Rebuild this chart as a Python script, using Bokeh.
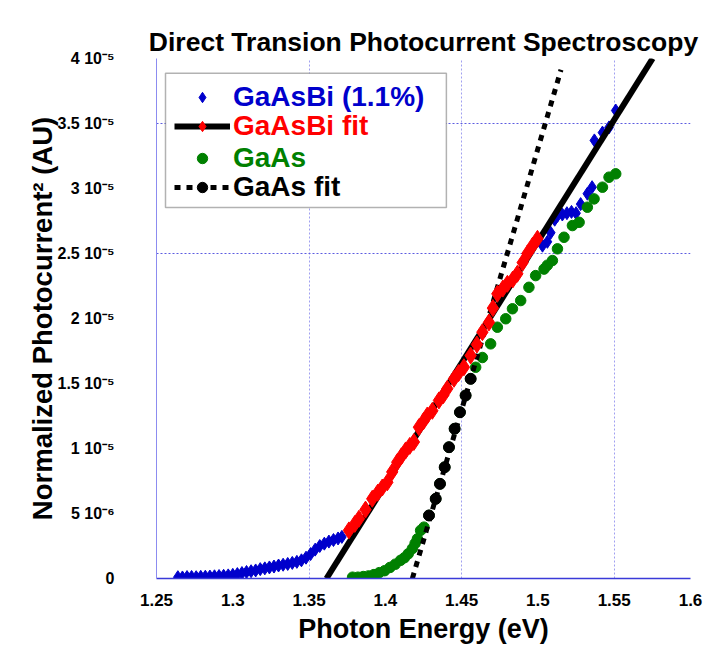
from bokeh.plotting import figure
from bokeh.models import (Range1d, FixedTicker, Legend, LegendItem, LinearAxis,
                          BoxAnnotation, ColumnDataSource)
from bokeh.embed import file_html
from bokeh.resources import INLINE

FONT = "Liberation Sans"

# GaAsBi (1.1%): photon energy (eV) and normalized photocurrent^2 (units of 1e-5)
gaasbi_e = [
    1.264, 1.267, 1.270, 1.273, 1.276, 1.279, 1.282, 1.285, 1.288, 1.291,
    1.294, 1.297, 1.300, 1.303, 1.306, 1.309, 1.312, 1.315, 1.318, 1.321,
    1.324, 1.327, 1.330, 1.333, 1.336, 1.339, 1.342, 1.345, 1.348, 1.351,
    1.354, 1.357, 1.360, 1.363, 1.366, 1.369, 1.3715,
    1.3761, 1.3800, 1.3827, 1.3870, 1.3914, 1.3950, 1.3980, 1.4013, 1.4045, 1.4078,
    1.4105, 1.4133, 1.4160, 1.4187, 1.4220, 1.4250, 1.4275, 1.4308, 1.4351, 1.4380,
    1.4406, 1.4450, 1.4480, 1.4515, 1.4559, 1.4600, 1.4636, 1.4679, 1.4705, 1.4734,
    1.4770, 1.4800, 1.4835, 1.4865, 1.4900, 1.4931, 1.4965, 1.4997,
    1.5030, 1.5062, 1.5084, 1.5110, 1.5128, 1.5160, 1.5190, 1.5220, 1.5250, 1.5280,
    1.5324, 1.5355, 1.5370, 1.5423, 1.5466, 1.5510,
]
gaasbi_pc2 = [
    0.010, 0.008, 0.011, 0.012, 0.010, 0.013, 0.014, 0.015, 0.017, 0.019,
    0.021, 0.024, 0.028, 0.034, 0.042, 0.050, 0.056, 0.062, 0.072, 0.078,
    0.085, 0.092, 0.100, 0.106, 0.112, 0.120, 0.128, 0.140, 0.160, 0.188,
    0.222, 0.250, 0.268, 0.284, 0.296, 0.308, 0.320,
    0.370, 0.420, 0.460, 0.530, 0.613, 0.660, 0.700, 0.740, 0.820, 0.895,
    0.940, 0.985, 1.020, 1.050, 1.164, 1.210, 1.254, 1.290, 1.370, 1.410,
    1.460, 1.536, 1.580, 1.625, 1.715, 1.800, 1.895, 1.970, 2.080, 2.190,
    2.230, 2.267, 2.300, 2.344, 2.430, 2.500, 2.560, 2.613,
    2.560, 2.590, 2.660, 2.760, 2.790, 2.800, 2.810, 2.820, 2.810, 2.880,
    2.960, 3.010, 3.370, 3.430, 3.470, 3.600,
]
# points of the GaAsBi set used for its linear fit
gaasbi_fit_first, gaasbi_fit_last = 37, 74
# GaAsBi linear fit, end points (eV, 1e-5)
gaasbi_line_e = [1.3614, 1.5752]
gaasbi_line_pc2 = [0.0, 4.0]

# GaAs: photon energy (eV) and normalized photocurrent^2 (units of 1e-5)
gaas_e = [
    1.3785, 1.3820, 1.3855, 1.3890, 1.3925, 1.3960, 1.3995, 1.4030, 1.4065, 1.4100,
    1.4125, 1.4150, 1.4177, 1.4195, 1.4210, 1.4231, 1.4253,
    1.4286, 1.4330, 1.4358, 1.4389, 1.4417, 1.4454, 1.4489, 1.4526, 1.4559,
    1.4592, 1.4636, 1.4690, 1.4734, 1.4789, 1.4833, 1.4887, 1.4941, 1.4985, 1.5040,
    1.5062, 1.5095, 1.5128, 1.5171, 1.5226, 1.5270, 1.5324, 1.5368, 1.5423, 1.5466,
    1.5510,
]
gaas_pc2 = [
    0.010, 0.010, 0.015, 0.020, 0.030, 0.045, 0.060, 0.085, 0.110, 0.140,
    0.160, 0.190, 0.230, 0.270, 0.305, 0.370, 0.395,
    0.485, 0.613, 0.728, 0.856, 1.010, 1.152, 1.279, 1.408, 1.536,
    1.625, 1.700, 1.805, 1.933, 1.998, 2.075, 2.138, 2.240, 2.330, 2.380,
    2.410, 2.446, 2.536, 2.625, 2.715, 2.740, 2.856, 2.920, 3.010, 3.087,
    3.113,
]
# points of the GaAs set used for its linear fit
gaas_fit_first, gaas_fit_last = 17, 25
gaas_line_e = [1.4177, 1.5151]
gaas_line_pc2 = [0.0, 3.913]

# axes
x_ticks = [1.25, 1.3, 1.35, 1.4, 1.45, 1.5, 1.55, 1.6]
x_tick_labels = ["1.25", "1.3", "1.35", "1.4", "1.45", "1.5", "1.55", "1.6"]
x_grid = [1.35, 1.45, 1.55]
y_ticks = [0, 0.5e-5, 1e-5, 1.5e-5, 2e-5, 2.5e-5, 3e-5, 3.5e-5, 4e-5]
y_tick_labels = ["0", "5 10\u207b\u2076", "1 10\u207b\u2075", "1.5 10\u207b\u2075",
                 "2 10\u207b\u2075", "2.5 10\u207b\u2075", "3 10\u207b\u2075",
                 "3.5 10\u207b\u2075", "4 10\u207b\u2075"]
y_grid = [2.5e-5, 3.5e-5]

SCALE = 1e-5


def src(xs, ys):
    return ColumnDataSource(dict(x=list(xs), y=[v * SCALE for v in ys]))


p = figure(width=715, height=646,
           x_range=Range1d(1.25, 1.6), y_range=Range1d(0, 4e-5),
           output_backend="svg", toolbar_location=None,
           min_border_left=156, min_border_right=25,
           min_border_top=58, min_border_bottom=68,
           title="Direct Transion Photocurrent Spectroscopy")
p.outline_line_color = None

p.title.align = "center"
p.title.text_font = FONT
p.title.text_font_size = "26.5px"
p.title.text_font_style = "bold"
p.title.text_color = "black"
p.title.standoff = 4

# x axis (bottom)
xa = p.below[0]
xa.ticker = FixedTicker(ticks=x_ticks)
xa.major_label_overrides = dict(zip(x_ticks, x_tick_labels))
xa.major_label_text_font = FONT
xa.major_label_text_font_size = "17px"
xa.major_label_text_font_style = "bold"
xa.major_label_text_color = "black"
xa.major_label_standoff = 9
xa.axis_label = "Photon Energy (eV)"
xa.axis_label_text_font = FONT
xa.axis_label_text_font_size = "27px"
xa.axis_label_text_font_style = "bold"
xa.axis_label_text_color = "black"
xa.axis_label_standoff = 5
xa.axis_line_color = "#3a3ad8"
xa.axis_line_width = 1.5
xa.major_tick_line_color = None
xa.minor_tick_line_color = None

# y axis
ya = p.left[0]
ya.ticker = FixedTicker(ticks=y_ticks)
ya.major_label_overrides = dict(zip(y_ticks, y_tick_labels))
ya.major_label_text_font = FONT
ya.major_label_text_font_size = "16px"
ya.major_label_text_font_style = "bold"
ya.major_label_text_color = "black"
ya.major_label_standoff = 36
ya.axis_label = "Normalized Photocurrent\u00b2 (AU)"
ya.axis_label_text_font = FONT
ya.axis_label_text_font_size = "27.5px"
ya.axis_label_text_font_style = "bold"
ya.axis_label_text_color = "black"
ya.axis_label_standoff = -3
ya.axis_line_color = "#8c8cf0"
ya.major_tick_line_color = None
ya.minor_tick_line_color = None

# blank top axis: only keeps a band of space between the title and the plot area
p.add_layout(LinearAxis(ticker=FixedTicker(ticks=[]), major_tick_out=22,
                        major_tick_in=0, axis_line_color=None,
                        major_tick_line_color=None, minor_tick_line_color=None,
                        major_label_standoff=0), "above")

p.xgrid.ticker = FixedTicker(ticks=x_grid)
p.ygrid.ticker = FixedTicker(ticks=y_grid)
p.xgrid.grid_line_color = "#a0a0f0"
p.ygrid.grid_line_color = "#5c5ce0"
p.xgrid.grid_line_dash = "2 2"
p.ygrid.grid_line_dash = "2 2"

# data and fits
bi_all = p.scatter("x", "y", source=src(gaasbi_e, gaasbi_pc2), marker="diamond",
                   size=13, color="#0000cc")
gaas_all = p.scatter("x", "y", source=src(gaas_e, gaas_pc2), marker="circle",
                     size=10.5, color="#008000")
bi_line = p.line("x", "y", source=src(gaasbi_line_e, gaasbi_line_pc2),
                 line_color="black", line_width=6)
gaas_line = p.line("x", "y", source=src(gaas_line_e, gaas_line_pc2),
                   line_color="black", line_width=5, line_dash="6 6")
bi_fit = p.scatter("x", "y",
                   source=src(gaasbi_e[gaasbi_fit_first:gaasbi_fit_last + 1],
                              gaasbi_pc2[gaasbi_fit_first:gaasbi_fit_last + 1]),
                   marker="diamond", size=17, color="#ff0000")
gaas_fit = p.scatter("x", "y",
                     source=src(gaas_e[gaas_fit_first:gaas_fit_last + 1],
                                gaas_pc2[gaas_fit_first:gaas_fit_last + 1]),
                     marker="circle", size=11, color="black")

# legend frame
p.add_layout(BoxAnnotation(left=1.2559, right=1.4400, bottom=2.854e-5, top=3.887e-5,
                           fill_color="white", fill_alpha=1.0,
                           line_color="black", line_width=1.5))

entries = [
    ("GaAsBi (1.1%)", [bi_all], "#0000cc", 465),
    ("GaAsBi fit", [bi_line, bi_fit], "#ff0000", 436),
    ("GaAs", [gaas_all], "#008000", 404),
    ("GaAs fit", [gaas_line, gaas_fit], "black", 375),
]
for text, rends, color, bottom in entries:
    lg = Legend(items=[LegendItem(label=text, renderers=rends)],
                location=(18, bottom), border_line_color=None,
                background_fill_alpha=0, padding=0, margin=0, spacing=0,
                glyph_width=56, glyph_height=26, label_height=26,
                label_standoff=3, label_text_font=FONT,
                label_text_font_size="28px", label_text_font_style="bold",
                label_text_color=color)
    p.add_layout(lg)

open("out.html", "w").write(file_html(p, INLINE))
